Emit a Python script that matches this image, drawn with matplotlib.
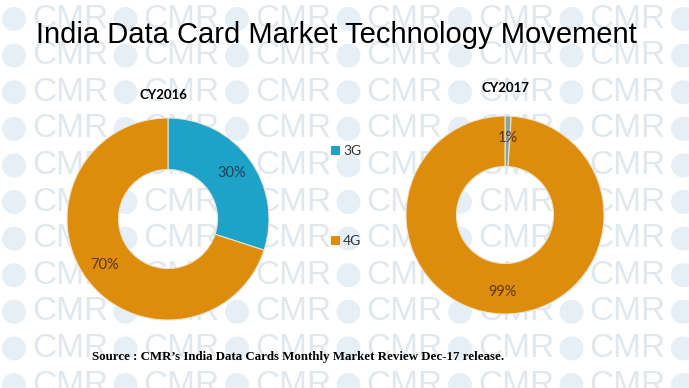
import matplotlib.pyplot as plt
from matplotlib.patches import Circle
from matplotlib.transforms import IdentityTransform

# chart data
technologies = ['3G', '4G']
years = ['CY2016', 'CY2017']
share_2016 = [30, 70]
share_2017 = [1, 99]

W, H = 689, 388
fig = plt.figure(figsize=(W / 100, H / 100), dpi=100)
fig.patch.set_facecolor('white')

# CMR watermark tiles in the background
for row in range(11):
    y = 19 + 36.6 * row
    for col in range(-1, 7):
        x = 32 + 111.5 * col
        fig.text(x / W, 1 - y / H, 'CMR', fontsize=24, family='Liberation Sans',
                 color='#e0e8ee', ha='left', va='center', zorder=-2)
        fig.add_artist(Circle((x - 18, H - y), 12, transform=IdentityTransform(),
                              facecolor='#e6eff5', edgecolor='none', zorder=-3))


def donut_axes(cx, cy, r):
    ax = fig.add_axes([(cx - r) / W, (H - cy - r) / H, 2 * r / W, 2 * r / H])
    ax.patch.set_alpha(0)
    return ax


blue = '#1ea3c8'
orange = '#de8c0c'
sliver = '#8aa39b'

donuts = [
    (share_2016, (168, 219, 101), [blue, orange], ['#1d4256', '#5a3510']),
    (share_2017, (505, 215, 99), [sliver, orange], ['#5a3510', '#5a3510']),
]

for values, (cx, cy, r), cols, label_cols in donuts:
    ax = donut_axes(cx, cy, r)
    wedges, texts, autotexts = ax.pie(
        values, colors=cols, startangle=90, counterclock=False,
        autopct='%1.0f%%', pctdistance=0.78,
        wedgeprops=dict(width=0.51, edgecolor='#e9e2d0', linewidth=0.8),
        textprops=dict(fontsize=10.5, family='Lato'))
    for t, c in zip(autotexts, label_cols):
        t.set_color(c)
    ax.set_xlim(-1, 1)
    ax.set_ylim(-1, 1)
    ax.set_aspect('equal')
    ax.axis('off')

# titles of each donut
fig.text(163 / W, 1 - 95 / H, years[0], fontsize=9.5, fontweight='bold',
         family='Lato', ha='center', va='center')
fig.text(506 / W, 1 - 88 / H, years[1], fontsize=9.5, fontweight='bold',
         family='Lato', ha='center', va='center')

# legend
for name, col, ly in zip(technologies, [blue, orange], [150, 240]):
    fig.add_artist(plt.Rectangle((331, H - ly - 4.5), 9, 9, transform=IdentityTransform(),
                                 facecolor=col, edgecolor='none'))
    fig.text(343 / W, 1 - (ly + 1) / H, name, fontsize=10, family='Lato',
             color='#333333', ha='left', va='center')

fig.text(336 / W, 1 - 35 / H, 'India Data Card Market Technology Movement',
         fontsize=21, family='Liberation Sans', ha='center', va='center')
fig.text(298 / W, 1 - 357 / H,
         "Source : CMR\u2019s India Data Cards Monthly Market Review Dec-17 release.",
         fontsize=9.3, fontweight='bold', family='Liberation Serif',
         ha='center', va='center')

fig.savefig('out.png', dpi=100)
